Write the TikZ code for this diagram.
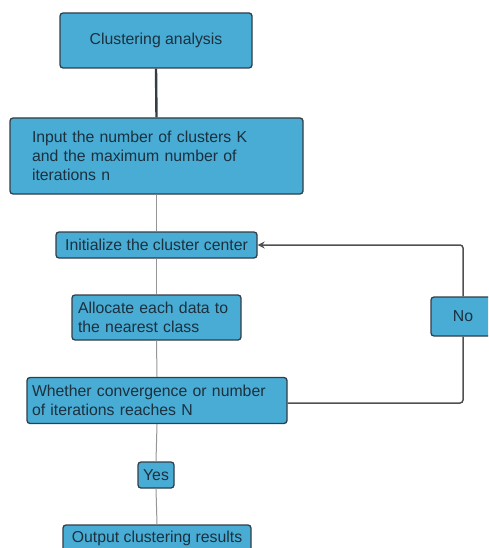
\documentclass[tikz,border=0pt]{standalone}
\usepackage{fontspec}
\setmainfont{Liberation Sans}
\usetikzlibrary{arrows.meta}
\definecolor{boxfill}{RGB}{72,172,212}
\definecolor{boxline}{RGB}{50,62,72}
\definecolor{boxtext}{RGB}{28,48,62}
\definecolor{thinline}{RGB}{150,150,150}
\definecolor{loopline}{RGB}{80,80,80}
\begin{document}
\begin{tikzpicture}[x=1pt,y=-1pt,
  box/.style={draw=boxline, line width=1.3pt, fill=boxfill, rounded corners=3pt,
    text=boxtext, font=\fontsize{15.8}{19}\selectfont, inner sep=0pt, align=center},
  lbox/.style={box, align=left, inner xsep=#1, inner ysep=0pt},
  thick conn/.style={draw=boxline, line width=2.4pt},
  thin conn/.style={draw=thinline, line width=1pt},
  loop conn/.style={draw=loopline, line width=1.5pt, rounded corners=3pt}]
\useasboundingbox (0,0) rectangle (488,548);
\begin{scope}
\clip (0,0) rectangle (488,548);
\node[box, minimum width=192pt, minimum height=55pt] (a) at (156,40.5) {Clustering analysis};
\node[lbox=22pt, text width=249pt, minimum height=76pt] (b) at (156.5,156)
  {Input the number of clusters K\\and the maximum number of\\iterations n};
\node[box, minimum width=201pt, minimum height=26pt] (c) at (156.5,245) {Initialize the cluster center};
\node[lbox=6pt, text width=157pt, minimum height=45pt] (d) at (156.5,317.5)
  {Allocate each data to\\the nearest class};
\node[lbox=5pt, text width=250pt, minimum height=46pt] (e) at (157,400.5)
  {Whether convergence or number\\of iterations reaches N};
\node[box, minimum width=36pt, minimum height=26pt] (y) at (156,475) {Yes};
\node[box, minimum width=188pt, minimum height=26pt] (o) at (157,538) {Output clustering results};
\node[box, minimum width=64pt, minimum height=39pt] (n) at (463,316.5) {No};
\end{scope}
\draw[thick conn] (a.south) -- (b.north);
\draw[thin conn] (b.south) -- (c.north);
\draw[thin conn] (c.south) -- (d.north);
\draw[thin conn] (d.south) -- (e.north);
\draw[thin conn] (e.south) -- (y.north);
\draw[thin conn] (y.south) -- (o.north);
\draw[loop conn] (e.east |- 0,403) -- (463,403) -- (n.south);
\draw[loop conn, -{Stealth[length=7pt,width=7pt]}] (n.north) -- (463,245) -- (c.east);
\end{tikzpicture}
\end{document}
